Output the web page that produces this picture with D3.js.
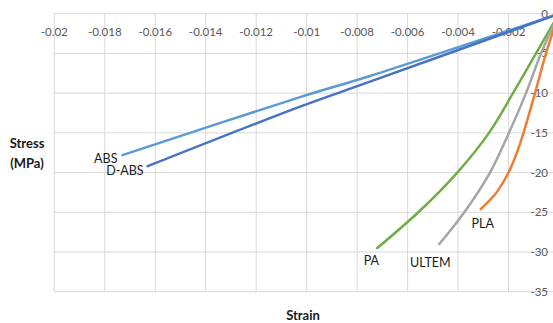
<!DOCTYPE html>
<html>
<head>
<meta charset="utf-8">
<script src="https://cdn.jsdelivr.net/npm/d3@7"></script>
<style>
    body { margin: 0; background: #fff; }
    svg { display: block; font-family: Lato, "Open Sans", sans-serif; }
    .grid line { stroke: #d9d9d9; stroke-width: 1; }
    .tick-label { fill: #595959; font-size: 11.5px; }
    .axis-title { fill: #1a1a1a; font-size: 13px; font-weight: bold; }
    .series-label { fill: #1a1a1a; font-size: 12.5px; }
</style>
</head>
<body>
<svg id="chart" width="553" height="323"></svg>
<script>
// tick values
let xTicks = [-0.02, -0.018, -0.016, -0.014, -0.012, -0.01, -0.008, -0.006, -0.004, -0.002];
let yTicks = [0, -5, -10, -15, -20, -25, -30, -35];

// series (strain, stress in MPa)
let seriesNames = ["ABS", "D-ABS", "PA", "ULTEM", "PLA"];
let absStrain = [0, -0.00749, -0.01026, -0.0173];
let absStress = [0, -7.84, -10.5, -17.8];
let dabsStrain = [0, -0.00749, -0.01026, -0.0163];
let dabsStress = [0, -8.56, -11.7, -19.2];
let paStrain = [0, -0.000911, -0.001823, -0.002774, -0.00403, -0.005576, -0.0072];
let paStress = [0, -5, -10, -15, -20, -25, -29.5];
let ultemStrain = [0, -0.000713, -0.001308, -0.001981, -0.002734, -0.003753, -0.004743];
let ultemStress = [0, -5, -10, -15, -20, -25, -29.0];
let plaStrain = [0, -0.000515, -0.000951, -0.001407, -0.00167, -0.002001, -0.002477, -0.003103];
let plaStress = [0, -5, -10, -15, -17.5, -20, -22.5, -24.6];

class StressChart {
    /**
     * Constructor for the chart
     */
    constructor() {
        this.x = d3.scaleLinear().domain([-0.02, 0]).range([54.3, 559]);
        this.y = d3.scaleLinear().domain([-35, 0]).range([291.7, 13.7]);
        this.colors = {"ABS": "#5b9bd5", "D-ABS": "#4472c4", "PA": "#70ad47", "ULTEM": "#a5a5a5", "PLA": "#ed7d31"};
        // label offsets from each series' last point, pixels
        this.labelOffset = {"ABS": [-5, 8, "end"], "D-ABS": [-4, 9, "end"], "PA": [-6, 17, "middle"],
            "ULTEM": [-9, 23, "middle"], "PLA": [2, 19, "middle"]};
    };

    drawChart() {
        let _this = this;
        let svg = d3.select("#chart");
        let x = this.x, y = this.y;

        let grid = svg.append("g").classed("grid", true);
        grid.selectAll("line.v")
            .data(xTicks.concat([0]))
            .enter()
            .append("line")
            .attr("x1", d => x(d)).attr("x2", d => x(d))
            .attr("y1", y(0)).attr("y2", y(-35));
        grid.selectAll("line.h")
            .data(yTicks)
            .enter()
            .append("line")
            .attr("class", "h")
            .attr("x1", x(-0.02)).attr("x2", x(0))
            .attr("y1", d => y(d)).attr("y2", d => y(d));

        svg.selectAll("text.xt")
            .data(xTicks)
            .enter()
            .append("text")
            .attr("class", "tick-label xt")
            .attr("x", d => x(d))
            .attr("y", 31.7)
            .attr("dy", "0.35em")
            .attr("text-anchor", "middle")
            .text(d => String(d));

        svg.selectAll("text.yt")
            .data(yTicks)
            .enter()
            .append("text")
            .attr("class", "tick-label yt")
            .attr("x", 548)
            .attr("y", d => y(d))
            .attr("dy", "0.35em")
            .attr("text-anchor", "end")
            .text(d => String(d));

        let data = [
            {name: "ABS", strain: absStrain, stress: absStress},
            {name: "D-ABS", strain: dabsStrain, stress: dabsStress},
            {name: "PA", strain: paStrain, stress: paStress},
            {name: "ULTEM", strain: ultemStrain, stress: ultemStress},
            {name: "PLA", strain: plaStrain, stress: plaStress}
        ];
        data.forEach(s => s.points = s.strain.map((v, i) => [v, s.stress[i]]));

        let line = d3.line()
            .x(d => x(d[0]))
            .y(d => y(d[1]))
            .curve(d3.curveCatmullRom.alpha(0.5));

        svg.append("g")
            .selectAll("path")
            .data(data)
            .enter()
            .append("path")
            .attr("d", d => line(d.points))
            .attr("fill", "none")
            .attr("stroke", d => _this.colors[d.name])
            .attr("stroke-width", 2.5)
            .attr("stroke-linecap", "round");

        svg.append("g")
            .selectAll("text")
            .data(data)
            .enter()
            .append("text")
            .attr("class", "series-label")
            .attr("x", d => x(d.points[d.points.length - 1][0]) + _this.labelOffset[d.name][0])
            .attr("y", d => y(d.points[d.points.length - 1][1]) + _this.labelOffset[d.name][1])
            .attr("text-anchor", d => _this.labelOffset[d.name][2])
            .text(d => d.name);

        svg.append("text")
            .attr("class", "axis-title")
            .attr("x", 27).attr("y", 148)
            .attr("text-anchor", "middle")
            .text("Stress");
        svg.append("text")
            .attr("class", "axis-title")
            .attr("x", 27).attr("y", 167.5)
            .attr("text-anchor", "middle")
            .text("(MPa)");
        svg.append("text")
            .attr("class", "axis-title")
            .attr("x", 303).attr("y", 319.5)
            .attr("text-anchor", "middle")
            .text("Strain");
    }
}

let chart = new StressChart();
chart.drawChart();
</script>
</body>
</html>
